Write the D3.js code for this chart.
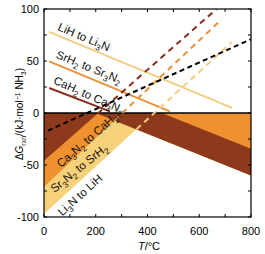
<!DOCTYPE html>
<html><head><meta charset="utf-8">
<script src="https://cdn.jsdelivr.net/npm/d3@7"></script>
<style>body{margin:0;background:#fff;}svg{display:block;font-family:"Liberation Sans",Arial,sans-serif;}</style>
</head><body><svg id="c" width="265" height="254"></svg>
<script>
// ---- data ----
const metals = ["Li", "Sr", "Ca"];
const fillColors = ["#f8d27b", "#f0912f", "#8c3a1b"];
const lineColors = ["#f5cd84", "#e9913a", "#8a2e1c"];
// hydride -> nitride (solid, falling)
const hydT = [[20, 727], [20, 486], [20, 255]];
const hydG = [[78, 5], [49.6, 1.5], [24, 1.5]];
const hydLabels = [["LiH to Li", "3", "N", ""], ["SrH", "2", " to Sr", "3", "N", "2"], ["CaH", "2", " to Ca", "3", "N", "2"]];
// nitride -> hydride (rising)
const nitT = [[0, 725], [0, 686], [0, 667]];
const nitG = [[-97, 68], [-71, 90], [-46, 100]];
// band lines (falling)
const bandB_T = [200, 800], bandB_G = [0, -60];
const bandA_T = [455, 800], bandA_G = [0, -34.4];
// NH3 reference (black dashed)
const refT = [15, 800], refG = [-17, 71];
const xTicks = [0, 200, 400, 600, 800];
const yTicks = [-100, -50, 0, 50, 100];

const svg = d3.select("#c");
const x = d3.scaleLinear().domain([0, 800]).range([44, 251]);
const y = d3.scaleLinear().domain([-100, 100]).range([217, 9]);

function lineFn(T, G) { const s = (G[1] - G[0]) / (T[1] - T[0]); return t => G[0] + s * (t - T[0]); }
function inter(f, g) {
  const a0 = f(0) - g(0), a1 = f(800) - g(800);
  return -a0 * 800 / (a1 - a0);
}
const B = lineFn(bandB_T, bandB_G), A = lineFn(bandA_T, bandA_G);
const rise = metals.map((m, i) => lineFn(nitT[i], nitG[i]));
const peaks = rise.map(f => { const t = inter(f, B); return [t, B(t)]; });

svg.append("defs").append("clipPath").attr("id", "clip").append("rect")
  .attr("x", x(0)).attr("y", y(100)).attr("width", x(800) - x(0)).attr("height", y(-100) - y(100));
const g = svg.append("g").attr("clip-path", "url(#clip)");
const pl = d3.line().x(d => x(d[0])).y(d => y(d[1]));

[0, 1].forEach(i => {
  g.append("path").attr("d", pl([[0, 0], [800, 0], [800, B(800)], peaks[i], [0, rise[i](0)]]) + "Z")
    .attr("fill", fillColors[i]);
});
g.append("path").attr("d", pl([[0, 0], [bandA_T[0], 0], [800, A(800)], [800, B(800)], peaks[2], [0, rise[2](0)]]) + "Z")
  .attr("fill", fillColors[2]);

g.append("line").attr("x1", x(0)).attr("x2", x(800)).attr("y1", y(0)).attr("y2", y(0))
  .attr("stroke", "#000").attr("stroke-width", 1.5);

metals.forEach((m, i) => {
  g.append("path").attr("d", pl([[hydT[i][0], hydG[i][0]], [hydT[i][1], hydG[i][1]]]))
    .attr("stroke", lineColors[i]).attr("stroke-width", 2).attr("fill", "none");
});
metals.forEach((m, i) => {
  g.append("path").attr("d", pl([peaks[i], [nitT[i][1], nitG[i][1]]]))
    .attr("stroke", lineColors[i]).attr("stroke-width", 2).attr("fill", "none")
    .attr("stroke-dasharray", "6,4.5");
});
g.append("path").attr("d", pl([[refT[0], refG[0]], [refT[1], refG[1]]]))
  .attr("stroke", "#000").attr("stroke-width", 2).attr("fill", "none").attr("stroke-dasharray", "5,3.5");

function label(parts, cx, cy, ang, size) {
  const t = svg.append("text").attr("transform", `translate(${cx},${cy}) rotate(${ang})`)
    .attr("text-anchor", "middle").attr("dy", "0.35em").attr("font-size", size).attr("fill", "#111");
  parts.forEach((p, k) => {
    if (p === "") return;
    const isSub = (k % 2 === 1);
    const ts = t.append("tspan").text(p);
    if (isSub) ts.attr("font-size", size * 0.72).attr("dy", size * 0.28);
    else if (k > 0) ts.attr("dy", -size * 0.28);
  });
}
label(hydLabels[0], 84, 37, 23, 11.5);
label(hydLabels[1], 89, 67, 22, 11.5);
label(hydLabels[2], 89, 95, 24, 11.5);
label(["Ca", "3", "N", "2", " to CaH", "2"], 87, 140, -41, 11.5);
label(["Sr", "3", "N", "2", " to SrH", "2"], 79, 168, -39, 11.5);
label(["Li", "3", "N to LiH", ""], 80, 195, -42, 11.5);

svg.append("rect").attr("x", x(0)).attr("y", y(100)).attr("width", x(800) - x(0)).attr("height", y(-100) - y(100))
  .attr("fill", "none").attr("stroke", "#000").attr("stroke-width", 1.2);
const tk = svg.append("g").attr("stroke", "#000").attr("stroke-width", 1);
d3.range(-100, 101, 25).forEach(v => {
  tk.append("line").attr("x1", x(0)).attr("x2", x(0) + 3).attr("y1", y(v)).attr("y2", y(v));
  tk.append("line").attr("x1", x(800)).attr("x2", x(800) - 3).attr("y1", y(v)).attr("y2", y(v));
});
d3.range(0, 801, 100).forEach(v => {
  tk.append("line").attr("x1", x(v)).attr("x2", x(v)).attr("y1", y(-100)).attr("y2", y(-100) - 3);
  tk.append("line").attr("x1", x(v)).attr("x2", x(v)).attr("y1", y(100)).attr("y2", y(100) + 3);
});
yTicks.forEach(v => svg.append("text").attr("x", 39).attr("y", y(v)).attr("dy", "0.35em")
  .attr("text-anchor", "end").attr("font-size", 11).text(v));
xTicks.forEach(v => svg.append("text").attr("x", x(v)).attr("y", 235)
  .attr("text-anchor", "middle").attr("font-size", 11).text(v));

const xt = svg.append("text").attr("x", 149).attr("y", 250).attr("text-anchor", "middle").attr("font-size", 11);
xt.append("tspan").attr("font-style", "italic").text("T");
xt.append("tspan").text("/°C");
const yt = svg.append("text").attr("transform", "translate(23,114) rotate(-90)").attr("text-anchor", "middle").attr("font-size", 10);
yt.append("tspan").text("Δ");
yt.append("tspan").attr("font-style", "italic").text("G");
yt.append("tspan").attr("font-size", 7).attr("dy", 2.5).text("rxn");
yt.append("tspan").attr("dy", -2.5).text("/(kJ·mol");
yt.append("tspan").attr("font-size", 7).attr("dy", -3.5).text("−1");
yt.append("tspan").attr("dy", 3.5).text(" NH");
yt.append("tspan").attr("font-size", 7).attr("dy", 2.5).text("3");
yt.append("tspan").attr("dy", -2.5).text(")");
</script></body></html>
